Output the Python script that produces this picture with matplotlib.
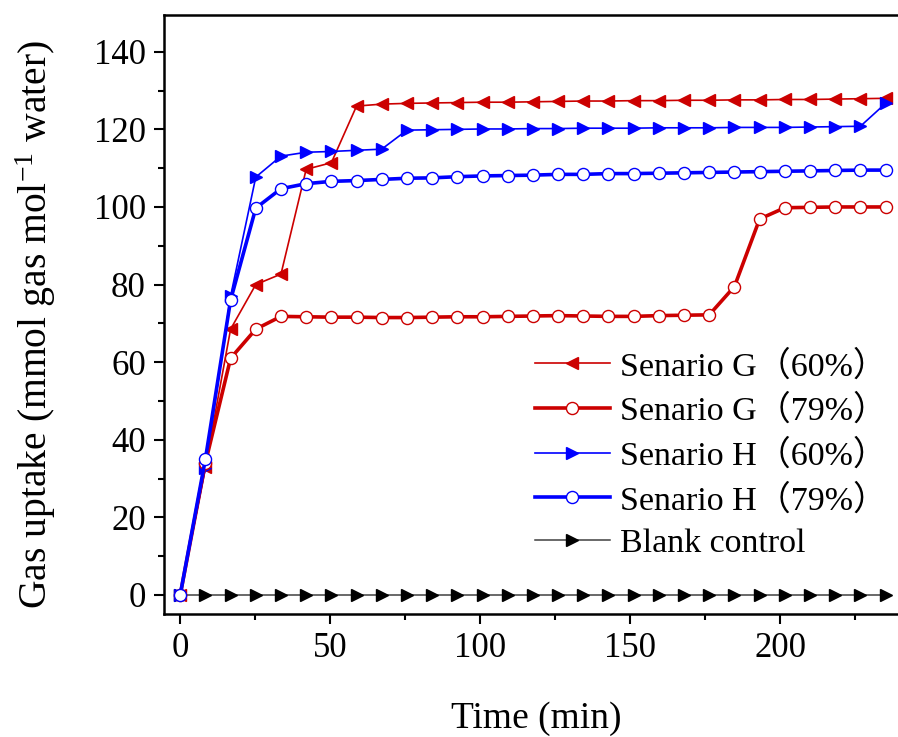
import numpy as np
import matplotlib
matplotlib.use('Agg')
import matplotlib.pyplot as plt

plt.rcParams['font.family'] = ['Liberation Serif', 'Noto Sans CJK SC']
plt.rcParams['mathtext.fontset'] = 'custom'
plt.rcParams['mathtext.rm'] = 'Liberation Serif'
plt.rcParams['mathtext.default'] = 'rm'

# время (мин)
time = [0, 8.4, 16.8, 25.2, 33.6, 42.0, 50.4, 58.8, 67.2, 75.6, 84.0, 92.4, 100.8, 109.2,
        117.6, 126.0, 134.4, 142.8, 151.2, 159.6, 168.0, 176.4, 184.8, 193.2, 201.6, 210.0,
        218.4, 226.8, 235.2]

g60 = [0, 33.0, 68.5, 80.0, 82.7, 109.7, 111.4, 126.0, 126.5, 126.7, 126.8, 126.9, 127.0,
       127.0, 127.1, 127.2, 127.3, 127.3, 127.4, 127.4, 127.5, 127.5, 127.6, 127.6, 127.7,
       127.7, 127.8, 127.9, 128.0]
g79 = [0, 34.0, 61.0, 68.5, 71.8, 71.7, 71.6, 71.6, 71.5, 71.5, 71.6, 71.7, 71.7, 71.8,
       71.9, 72.0, 71.9, 71.8, 71.8, 72.0, 72.1, 72.2, 79.5, 96.9, 99.8, 99.9, 100.0, 100.0,
       100.0]
h60 = [0, 32.7, 77.0, 107.7, 113.1, 114.1, 114.3, 114.6, 114.9, 119.8, 119.9, 120.0, 120.1,
       120.1, 120.2, 120.2, 120.3, 120.3, 120.3, 120.4, 120.4, 120.4, 120.5, 120.5, 120.5,
       120.6, 120.7, 120.8, 126.7]
h79 = [0, 35.0, 76.0, 99.7, 104.7, 106.0, 106.6, 106.8, 107.1, 107.4, 107.5, 107.8, 108.0,
       108.1, 108.2, 108.4, 108.4, 108.6, 108.6, 108.7, 108.8, 108.9, 109.0, 109.1, 109.2,
       109.3, 109.4, 109.5, 109.5]
blank = [0] * 29

labels = ['Senario G（60%）', 'Senario G（79%）', 'Senario H（60%）', 'Senario H（79%）',
          'Blank control']

red = '#CC0000'
blue = '#0000FF'

fig = plt.figure(figsize=(8.98, 7.37), dpi=100)
ax = fig.add_axes([164 / 898, 1 - 614 / 737, 745 / 898, (614 - 14.5) / 737])

hb, = ax.plot(time, blank, color='#404040', lw=1.1, marker='>', ms=8,
              mfc='black', mec='black', label=labels[4], zorder=2)
h1, = ax.plot(time, g60, color=red, lw=1.2, marker='<', ms=8.5,
              mfc=red, mec=red, label=labels[0], zorder=3)
h3, = ax.plot(time, h60, color=blue, lw=1.2, marker='>', ms=8.5,
              mfc=blue, mec=blue, label=labels[2], zorder=3)
h2, = ax.plot(time, g79, color=red, lw=2.6, marker='o', ms=8.7,
              mfc='white', mec=red, mew=1.0, label=labels[1], zorder=4)
h4, = ax.plot(time, h79, color=blue, lw=2.6, marker='o', ms=8.7,
              mfc='white', mec=blue, mew=1.0, label=labels[3], zorder=4)

ax.set_xlim(-5.4, 243)
ax.set_ylim(-4.9, 149.6)
ax.set_xticks([0, 50, 100, 150, 200])
ax.set_xticks(np.arange(25, 240, 50), minor=True)
ax.set_yticks(np.arange(0, 141, 20))
ax.set_yticks(np.arange(10, 150, 20), minor=True)

for s in ['left', 'bottom', 'top']:
    ax.spines[s].set_linewidth(1.8)
ax.spines['right'].set_visible(False)
ax.tick_params(which='major', direction='out', length=7, width=1.5, labelsize=25,
               top=False, right=False, pad=6)
ax.tick_params(which='minor', direction='out', length=4, width=1.5, top=False, right=False)

ax.set_xlabel('Time (min)', fontsize=27, labelpad=26)
ax.set_ylabel('Gas uptake (mmol gas mol$^{\\mathrm{-1}}$ water)', fontsize=28.5)
ax.yaxis.set_label_coords(-0.142, 0.483)

fig.legend(handles=[h1, h2, h3, h4, hb], loc='upper left',
           bbox_to_anchor=(535 / 898, 1 - 350 / 737), bbox_transform=fig.transFigure,
           frameon=False, fontsize=24.5, handlelength=2.2, handletextpad=0.3,
           labelspacing=0.36, borderpad=0, borderaxespad=0)

fig.savefig('out.png', dpi=100)
